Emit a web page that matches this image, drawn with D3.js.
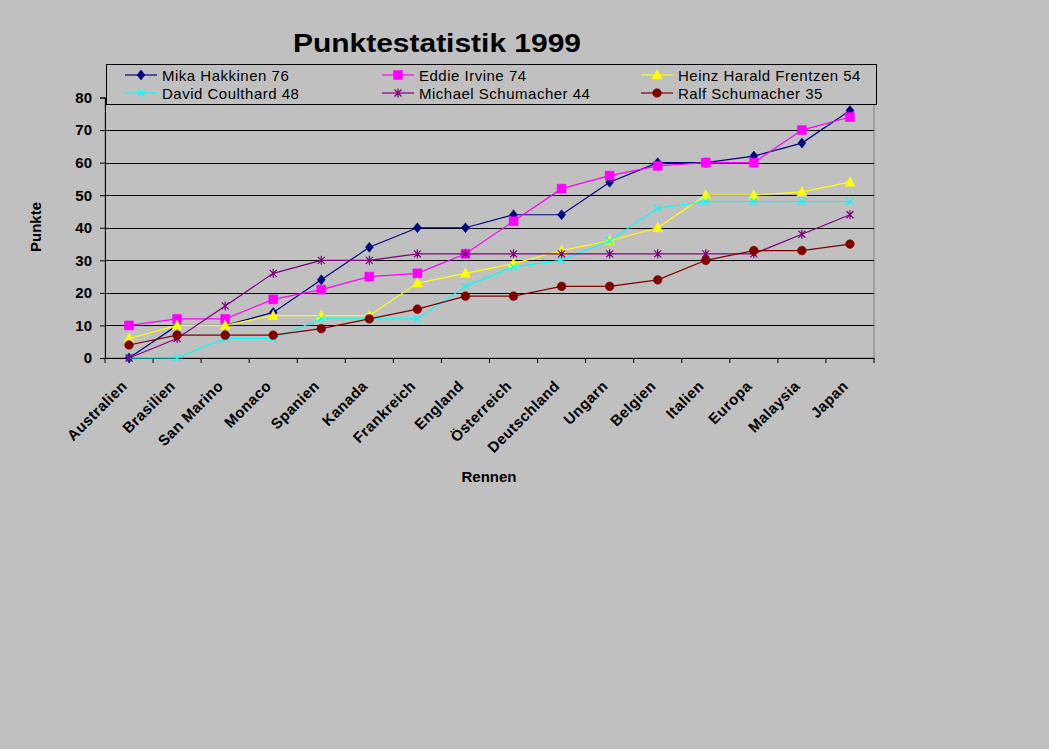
<!DOCTYPE html>
<html>
<head>
<meta charset="utf-8">
<script src="https://cdn.jsdelivr.net/npm/d3@7"></script>
<style>
  body { margin: 0; background: #c0c0c0; }
  text { font-family: "Liberation Sans", Arial, sans-serif; }
</style>
</head>
<body>
<div id="chart"></div>
<script>
// Punktestatistik 1999 - cumulative points per race
var races = ["Australien", "Brasilien", "San Marino", "Monaco", "Spanien", "Kanada", "Frankreich",
    "England", "Österreich", "Deutschland", "Ungarn", "Belgien", "Italien", "Europa", "Malaysia", "Japan"];

var hakkinen    = [0, 10, 10, 14, 24, 34, 40, 40, 44, 44, 54, 60, 60, 62, 66, 76];
var irvine      = [10, 12, 12, 18, 21, 25, 26, 32, 42, 52, 56, 59, 60, 60, 70, 74];
var frentzen    = [6, 10, 10, 13, 13, 13, 23, 26, 29, 33, 36, 40, 50, 50, 51, 54];
var coulthard   = [0, 0, 6, 6, 12, 12, 12, 22, 28, 30, 36, 46, 48, 48, 48, 48];
var mschumacher = [0, 6, 16, 26, 30, 30, 32, 32, 32, 32, 32, 32, 32, 32, 38, 44];
var rschumacher = [4, 7, 7, 7, 9, 12, 15, 19, 19, 22, 22, 24, 30, 33, 33, 35];

var driverNames = ["Mika Hakkinen 76", "Eddie Irvine 74", "Heinz Harald Frentzen 54",
    "David Coulthard 48", "Michael Schumacher 44", "Ralf Schumacher 35"];
var yTicks = [0, 10, 20, 30, 40, 50, 60, 70, 80];

var series = [
    {name: driverNames[0], values: hakkinen, color: "#000080", marker: "diamond"},
    {name: driverNames[1], values: irvine, color: "#ff00ff", marker: "square"},
    {name: driverNames[2], values: frentzen, color: "#ffff00", marker: "triangle"},
    {name: driverNames[3], values: coulthard, color: "#00ffff", marker: "x"},
    {name: driverNames[4], values: mschumacher, color: "#800080", marker: "star"},
    {name: driverNames[5], values: rschumacher, color: "#800000", marker: "circle"}
];

var width = 1049, height = 749;
var plotLeft = 105, plotRight = 874, plotTop = 97.5, plotBottom = 358;

var svg = d3.select("#chart").append("svg")
    .attr("width", width)
    .attr("height", height)
    .style("display", "block");

svg.append("rect").attr("width", width).attr("height", height).attr("fill", "#c0c0c0");

var x = d3.scaleBand().domain(races).range([plotLeft, plotRight]).padding(0);
var y = d3.scaleLinear().domain([0, 80]).range([plotBottom, plotTop]);
var cx = function(d) { return x(d) + x.bandwidth() / 2; };

// plot area border (only the right edge stays visible)
svg.append("rect")
    .attr("x", plotLeft).attr("y", plotTop)
    .attr("width", plotRight - plotLeft).attr("height", plotBottom - plotTop)
    .attr("fill", "none").attr("stroke", "#808080").attr("stroke-width", 1);

// gridlines
svg.append("g").selectAll("line")
    .data(yTicks.filter(function(t) { return t > 0; }))
    .join("line")
    .attr("x1", plotLeft).attr("x2", plotRight)
    .attr("y1", function(d) { return Math.round(y(d)) + 0.5; })
    .attr("y2", function(d) { return Math.round(y(d)) + 0.5; })
    .attr("stroke", "#000").attr("stroke-width", 1);

// y axis
var yAxis = svg.append("g")
    .attr("transform", "translate(" + plotLeft + ",0)")
    .call(d3.axisLeft(y).tickValues(yTicks).tickSize(5).tickPadding(8).tickFormat(d3.format("d")));
yAxis.select(".domain").attr("stroke", "#000");
yAxis.selectAll("text")
    .attr("font-size", 15).attr("font-weight", "bold").attr("fill", "#000")
    .attr("font-family", "Liberation Sans, Arial, sans-serif");

// x axis: labels at band centres, ticks at band edges
var xAxis = svg.append("g")
    .attr("transform", "translate(0," + plotBottom + ")")
    .call(d3.axisBottom(x).tickSize(0).tickFormat(""));
xAxis.select(".domain").attr("stroke", "#000");

svg.append("g").selectAll("line")
    .data(d3.range(races.length + 1))
    .join("line")
    .attr("x1", function(i) { return plotLeft + i * x.step(); })
    .attr("x2", function(i) { return plotLeft + i * x.step(); })
    .attr("y1", plotBottom).attr("y2", plotBottom + 5)
    .attr("stroke", "#000");

svg.append("g").selectAll("text")
    .data(races)
    .join("text")
    .attr("transform", function(d) { return "translate(" + (cx(d) - 1) + "," + 387 + ")rotate(-45)"; })
    .attr("text-anchor", "end")
    .attr("font-size", 15)
    .attr("font-weight", "bold")
    .attr("letter-spacing", 0.4)
    .text(function(d) { return d; });

// markers
function markerPath(type) {
    switch (type) {
        case "diamond": return "M0,-5L4,0L0,5L-4,0Z";
        case "square": return "M-4.5,-4.5H4.5V4.5H-4.5Z";
        case "triangle": return "M0,-5.5L5,4L-5,4Z";
        case "x": return "M-3.5,-3.5L3.5,3.5M-3.5,3.5L3.5,-3.5";
        case "star": return "M-3.5,-3.5L3.5,3.5M-3.5,3.5L3.5,-3.5M0,-4.5V4.5";
        case "circle": return d3.symbol().type(d3.symbolCircle).size(60)();
    }
}
function isStroke(type) { return type === "x" || type === "star"; }

function drawMarker(g, type, color) {
    g.append("path")
        .attr("d", markerPath(type))
        .attr("fill", isStroke(type) ? "none" : color)
        .attr("stroke", color)
        .attr("stroke-width", isStroke(type) ? 1.2 : 0.5);
}

var line = d3.line()
    .x(function(d, i) { return cx(races[i]); })
    .y(function(d) { return y(d); });

series.forEach(function(s) {
    var g = svg.append("g");
    g.append("path")
        .attr("d", line(s.values))
        .attr("fill", "none")
        .attr("stroke", s.color)
        .attr("stroke-width", 1.2);
    s.values.forEach(function(v, i) {
        var m = g.append("g").attr("transform", "translate(" + cx(races[i]) + "," + y(v) + ")");
        drawMarker(m, s.marker, s.color);
    });
});

// legend
var legend = svg.append("g");
legend.append("rect")
    .attr("x", 106.5).attr("y", 64.5)
    .attr("width", 770).attr("height", 40)
    .attr("fill", "#c0c0c0").attr("stroke", "#000").attr("stroke-width", 1);

var colX = [125, 382, 641];
var rowY = [75, 93];
series.forEach(function(s, i) {
    var lx = colX[i % 3], ly = rowY[Math.floor(i / 3)];
    var item = legend.append("g").attr("transform", "translate(" + lx + "," + ly + ")");
    item.append("line").attr("x1", 0).attr("x2", 32).attr("y1", 0).attr("y2", 0)
        .attr("stroke", s.color).attr("stroke-width", 1.2);
    drawMarker(item.append("g").attr("transform", "translate(16,0)"), s.marker, s.color);
    item.append("text")
        .attr("x", 37).attr("y", 5.5)
        .attr("font-size", 15)
        .attr("letter-spacing", 0.5)
        .text(s.name);
});

// titles
svg.append("text")
    .attr("x", 293).attr("y", 52)
    .attr("font-size", 26)
    .attr("font-weight", "bold")
    .attr("textLength", 288)
    .attr("lengthAdjust", "spacingAndGlyphs")
    .text("Punktestatistik 1999");

svg.append("text")
    .attr("transform", "translate(41,227)rotate(-90)")
    .attr("text-anchor", "middle")
    .attr("font-size", 15)
    .attr("font-weight", "bold")
    .text("Punkte");

svg.append("text")
    .attr("x", 489).attr("y", 482)
    .attr("text-anchor", "middle")
    .attr("font-size", 15)
    .attr("font-weight", "bold")
    .text("Rennen");
</script>
</body>
</html>
